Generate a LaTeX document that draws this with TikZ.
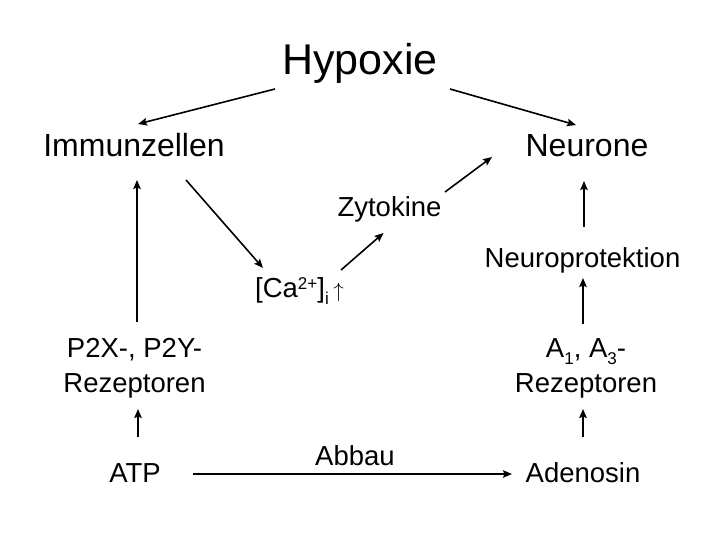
\documentclass[tikz,border=0pt]{standalone}
\usepackage{fontspec}
\setmainfont{Liberation Sans}
\usetikzlibrary{arrows.meta}
\newcommand{\supsc}[1]{\raisebox{7.5pt}{\fontsize{17}{20}\selectfont #1}}
\newcommand{\subsc}[1]{\raisebox{-7pt}{\fontsize{17}{20}\selectfont #1}}
\begin{document}
\begin{tikzpicture}[x=1pt,y=-1pt,
  arr/.style={line width=1.6pt,-{Stealth[length=9pt,width=7.5pt,inset=1.5pt]}},
  txt/.style={inner sep=0pt,anchor=base,font=\fontsize{27.5}{34.5}\selectfont},
  big/.style={inner sep=0pt,anchor=base,font=\fontsize{32}{38}\selectfont},
  ttl/.style={inner sep=0pt,anchor=base,font=\fontsize{43}{50}\selectfont}]
\useasboundingbox (0,0) rectangle (720,540);
\fill[white] (0,0) rectangle (720,540);
\node[ttl] (hyp) at (360,75) {Hypoxie};
\node[big] (imm) at (134,157) {Immunzellen};
\node[big] (neu) at (587,157) {Neurone};
\node[txt] (zyt) at (389.5,217) {Zytokine};
\node[txt] (npr) at (582.5,267) {Neuroprotektion};
\node[txt,anchor=base west] (ca) at (255,297) {[Ca\supsc{2+}]\subsc{i}\,{\fontsize{20}{24}\selectfont$\uparrow$}};
\node[txt,align=center] (p2x) at (134.5,392) {P2X-, P2Y-\\Rezeptoren};
\node[txt,align=center] (arez) at (586,392) {A\subsc{1}, A\subsc{3}-\\Rezeptoren};
\node[txt] (atp) at (135,482) {ATP};
\node[txt] (ade) at (583,482) {Adenosin};
\node[txt] (abb) at (355,465) {Abbau};
\draw[arr] ([shift={(-85,14)}]hyp.base) -- ([shift={(4,-33)}]imm.base);
\draw[arr] ([shift={(90,14)}]hyp.base) -- ([shift={(-11,-32)}]neu.base);
\draw[arr] ([shift={(52,23)}]imm.base) -- ([shift={(8,-29)}]ca.base west);
\draw[arr] ([shift={(86,-27)}]ca.base west) -- ([shift={(-6,16)}]zyt.base);
\draw[arr] ([shift={(55.5,-25)}]zyt.base) -- ([shift={(-95,0)}]neu.base);
\draw[arr] ([shift={(1.5,-40)}]npr.base) -- ([shift={(-3,24)}]neu.base);
\draw[arr] ([shift={(-3,-68)}]arez.base) -- ([shift={(0.5,11)}]npr.base);
\draw[arr] ([shift={(2.5,-70)}]p2x.base) -- ([shift={(3,23)}]imm.base);
\draw[arr] ([shift={(3,-45)}]atp.base) -- ([shift={(3,-73)}]atp.base);
\draw[arr] ([shift={(0,-45)}]ade.base) -- ([shift={(0,-73)}]ade.base);
\draw[arr] ([shift={(58,-8)}]atp.base) -- ([shift={(-71,-8)}]ade.base);
\end{tikzpicture}
\end{document}
